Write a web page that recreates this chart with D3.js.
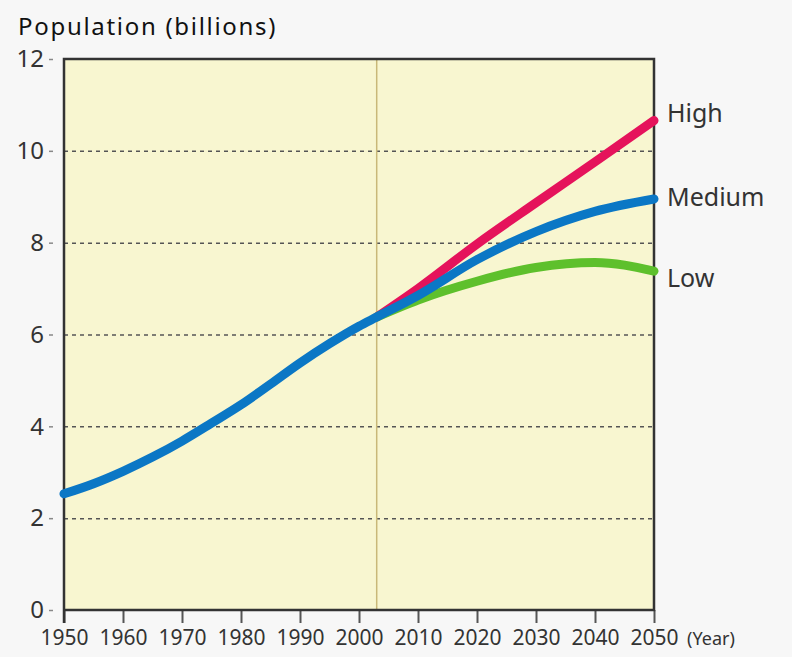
<!DOCTYPE html>
<html>
<head>
<meta charset="utf-8">
<script src="https://cdn.jsdelivr.net/npm/d3@7"></script>
<style>
  body { margin: 0; background: #f7f7f7; }
  svg { display: block; }
</style>
</head>
<body>
<div id="chart"></div>
<script>
// chart data
const years = [1950, 1955, 1960, 1965, 1970, 1975, 1980, 1985, 1990, 1995, 2000, 2003];
const history = [2.53, 2.75, 3.02, 3.33, 3.68, 4.07, 4.47, 4.92, 5.38, 5.80, 6.18, 6.38];
const projYears = [2003, 2010, 2020, 2030, 2040, 2050];
const high = [6.38, 7.00, 7.97, 8.87, 9.76, 10.66];
const medium = [6.38, 6.85, 7.63, 8.24, 8.68, 8.95];
const low = [6.38, 6.75, 7.16, 7.46, 7.57, 7.38];
const yTicks = [0, 2, 4, 6, 8, 10, 12];
const xTicks = [1950, 1960, 1970, 1980, 1990, 2000, 2010, 2020, 2030, 2040, 2050];
const splitYear = 2003;

const width = 792, height = 657;
const margin = { top: 59, right: 138, bottom: 47, left: 64 };
const chartWidth = width - margin.left - margin.right;
const chartHeight = height - margin.top - margin.bottom;
const font = "'Noto Sans', sans-serif";

const svg = d3.select('#chart').append('svg')
    .attr('width', width)
    .attr('height', height)
    .attr('font-family', font);

svg.append('text')
    .attr('x', 18).attr('y', 35)
    .attr('font-size', 24)
    .attr('letter-spacing', 1.7)
    .attr('font-family', font)
    .attr('fill', '#111')
    .text('Population (billions)');

const chart = svg.append('g')
    .attr('transform', `translate(${margin.left},${margin.top})`);

const x = d3.scaleLinear().domain([1950, 2050]).range([0, chartWidth]);
const y = d3.scaleLinear().domain([0, 12]).range([chartHeight, 0]);

// plot background
chart.append('rect')
    .attr('width', chartWidth).attr('height', chartHeight)
    .attr('fill', '#f8f6d0');

// y axis with dashed grid
const yAxis = d3.axisLeft(y).tickValues(yTicks).tickSize(0).tickPadding(20);
const yG = chart.append('g').call(yAxis);
yG.select('.domain').remove();
yG.selectAll('text').attr('font-size', 24).attr('fill', '#333').attr('font-family', font);
yG.selectAll('.tick').append('line')
    .attr('x1', -15).attr('x2', -11)
    .attr('stroke', '#888').attr('stroke-width', 1.5);
yG.selectAll('.tick').filter(d => d > 0 && d < 12).append('line')
    .attr('x1', 0).attr('x2', chartWidth)
    .attr('stroke', '#555').attr('stroke-width', 1.5)
    .attr('stroke-dasharray', '4,4');

// vertical divider
chart.append('line')
    .attr('x1', x(splitYear)).attr('x2', x(splitYear))
    .attr('y1', 0).attr('y2', chartHeight)
    .attr('stroke', '#c9b878').attr('stroke-width', 1.5);

// x axis
const xAxis = d3.axisBottom(x).tickValues(xTicks).tickFormat(d3.format('d'))
    .tickSize(13).tickPadding(7);
const xG = chart.append('g')
    .attr('transform', `translate(0,${chartHeight})`)
    .call(xAxis);
xG.select('.domain').remove();
xG.selectAll('.tick line').attr('stroke', '#555').attr('stroke-width', 2);
xG.selectAll('text').attr('font-size', 21).attr('fill', '#333').attr('font-family', font);
xG.append('text')
    .attr('x', chartWidth + 57).attr('y', 35)
    .attr('text-anchor', 'middle')
    .attr('font-size', 18).attr('fill', '#333')
    .attr('font-family', font)
    .text('(Year)');

// frame
chart.append('path')
    .attr('d', `M0,${chartHeight + 13}V0H${chartWidth}V${chartHeight}H0`)
    .attr('fill', 'none')
    .attr('stroke', '#333').attr('stroke-width', 2.5);

// lines
const line = d3.line()
    .x(d => x(d[0]))
    .y(d => y(d[1]))
    .curve(d3.curveMonotoneX);

const series = [
    { name: 'High', values: high, color: '#e5135b', labelShift: -7 },
    { name: 'Low', values: low, color: '#5ec02c', labelShift: 7 },
    { name: 'Medium', values: medium, color: '#0b77c5', labelShift: -2 }
];
const histPts = years.map((yr, i) => [yr, history[i]]);

series.forEach(s => {
    const proj = projYears.map((yr, i) => [yr, s.values[i]]);
    chart.append('path')
        .datum(s.name === 'Medium' ? histPts.slice(0, -1).concat(proj) : proj)
        .attr('fill', 'none')
        .attr('stroke', s.color)
        .attr('stroke-width', 9)
        .attr('stroke-linecap', 'round')
        .attr('d', line);
});

// series labels
series.forEach(s => {
    chart.append('text')
        .attr('x', chartWidth + 13)
        .attr('y', y(s.values[s.values.length - 1]) + s.labelShift)
        .attr('dy', '0.35em')
        .attr('font-size', 25)
        .attr('fill', '#333')
        .attr('font-family', font)
        .text(s.name);
});
</script>
</body>
</html>
